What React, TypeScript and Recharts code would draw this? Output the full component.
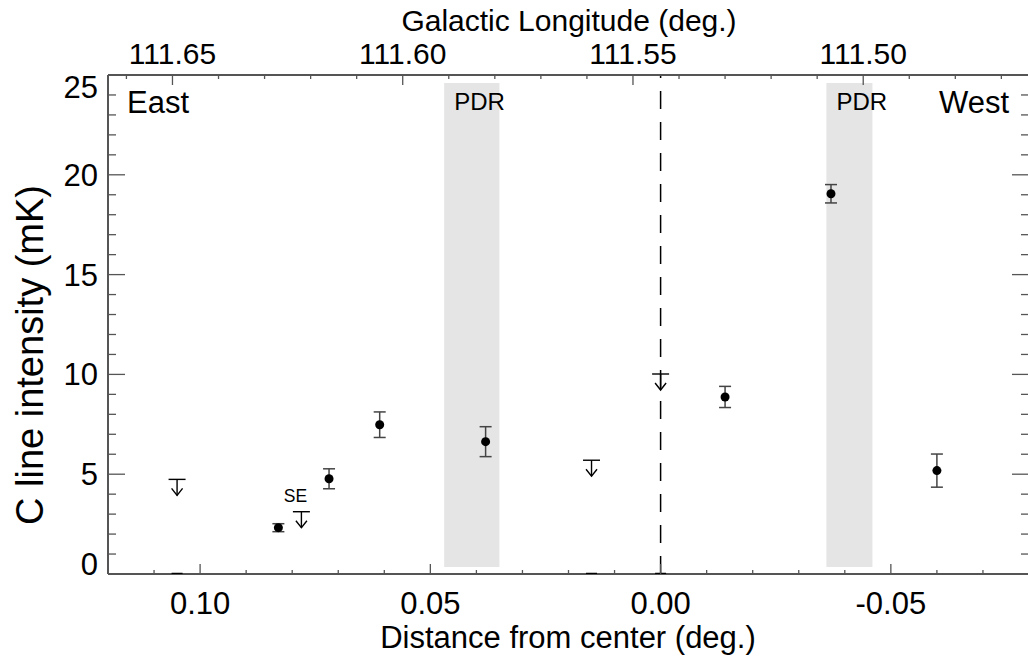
import {
  ComposedChart,
  ErrorBar,
  ReferenceArea,
  ReferenceLine,
  Scatter,
  XAxis,
  YAxis,
} from "recharts";

// detections (distance from center in deg., intensity in mK, 1-sigma error)
const detOffsets = [0.083, 0.072, 0.061, 0.038, -0.014, -0.037, -0.06];
const detIntensity = [2.32, 4.77, 7.48, 6.63, 8.87, 19.05, 5.18];
const detError = [0.2, 0.5, 0.64, 0.75, 0.53, 0.46, 0.83];

// upper limits
const limOffsets = [0.105, 0.078, 0.015, 0.0];
const limIntensity = [4.74, 3.12, 5.7, 10.02];
const limNotes = ["", "SE", "", ""];
const zeroMarkOffsets = [0.105, 0.015, 0.0];

// PDR regions
const pdrFrom = [0.047, -0.036];
const pdrTo = [0.035, -0.046];
const pdrLow = 0.35;
const pdrHigh = 24.6;

const lonCenter = 111.544;
const distDomain = [-0.08, 0.12];
const distTicks = [-8, -7, -6, -5, -4, -3, -2, -1, 0, 1, 2, 3, 4, 5, 6, 7, 8, 9, 10, 11, 12].map((k) => k / 100);
const lonTicks = [
  11147, 11148, 11149, 11150, 11151, 11152, 11153, 11154, 11155, 11156, 11157, 11158, 11159, 11160,
  11161, 11162, 11163, 11164, 11165, 11166,
].map((k) => k / 100);
const intensityTicks = [0, 1, 2, 3, 4, 5, 6, 7, 8, 9, 10, 11, 12, 13, 14, 15, 16, 17, 18, 19, 20, 21, 22, 23, 24, 25];

const FONT = '"Liberation Sans", Arial, Helvetica, sans-serif';
const AXIS = "#555";

const detections = detOffsets.map((x, i) => ({ x, y: detIntensity[i], err: detError[i] }));
const limits = limOffsets.map((x, i) => ({ x, y: limIntensity[i], note: limNotes[i] }));
const zeroMarks = zeroMarkOffsets.map((x) => ({ x, y: 0 }));
// same detections in galactic longitude, only so the top axis has a series
const detLongitudes = detOffsets.map((x, i) => ({ x: lonCenter + x, y: detIntensity[i] }));

const BottomTick = ({ x, y, payload }: any) => {
  const k = Math.round(payload.value * 100);
  const major = k % 5 === 0;
  return (
    <g>
      <line x1={x} x2={x} y1={y} y2={y - (major ? 10 : 4)} stroke={AXIS} strokeWidth={1.3} />
      {major && (
        <text x={x} y={y + 40} textAnchor="middle" fontSize={31} fontFamily={FONT} fill="#000">
          {(k / 100).toFixed(2)}
        </text>
      )}
    </g>
  );
};

const TopTick = ({ x, y, payload }: any) => {
  const k = Math.round(payload.value * 100);
  const major = k % 5 === 0;
  return (
    <g>
      <line x1={x} x2={x} y1={y} y2={y + (major ? 10 : 4)} stroke={AXIS} strokeWidth={1.3} />
      {major && (
        <text x={x} y={y - 11} textAnchor="middle" fontSize={30} fontFamily={FONT} fill="#000">
          {(k / 100).toFixed(2)}
        </text>
      )}
    </g>
  );
};

const LeftTick = ({ x, y, payload }: any) => {
  const v = payload.value;
  const major = v % 5 === 0;
  // IDL nudges the end labels inside the frame
  const shift = v === 0 ? -10 : v === 25 ? 12 : 0;
  return (
    <g>
      <line x1={x} x2={x + (major ? 17 : 8)} y1={y} y2={y} stroke={AXIS} strokeWidth={1.3} />
      {major && (
        <text x={x - 10} y={y + 11 + shift} textAnchor="end" fontSize={31} fontFamily={FONT} fill="#000">
          {v}
        </text>
      )}
    </g>
  );
};

const RightTick = ({ x, y, payload }: any) => {
  const major = payload.value % 5 === 0;
  return <line x1={x} x2={x - (major ? 17 : 8)} y1={y} y2={y} stroke={AXIS} strokeWidth={1.3} />;
};

const Dot = ({ cx, cy }: any) => <circle cx={cx} cy={cy} r={4.5} fill="#000" />;

const Hidden = () => <g />;

const LimitMark = ({ cx, cy, payload }: any) => (
  <g stroke="#000" strokeWidth={1.4} fill="none">
    <line x1={cx - 8.5} x2={cx + 8.5} y1={cy} y2={cy} />
    <line x1={cx} x2={cx} y1={cy} y2={cy + 16} />
    <polyline points={`${cx - 5.5},${cy + 9} ${cx},${cy + 16} ${cx + 5.5},${cy + 9}`} />
    {payload.note && (
      <text x={cx - 6} y={cy - 10} textAnchor="middle" fontSize={17.5} fontFamily={FONT} fill="#000" stroke="none">
        {payload.note}
      </text>
    )}
  </g>
);

const ZeroMark = ({ cx, cy }: any) => (
  <line x1={cx - 5.5} x2={cx + 5.5} y1={cy} y2={cy} stroke="#000" strokeWidth={2.5} />
);

export default function App() {
  return (
    <div style={{ position: "absolute", left: 0, top: 0, width: 1028, height: 660, overflow: "hidden", background: "#fff" }}>
      <ComposedChart width={1030} height={660} margin={{ top: 0, right: 0, bottom: 0, left: 0 }}>
        <XAxis
          xAxisId="bottom"
          type="number"
          dataKey="x"
          domain={distDomain}
          reversed
          allowDataOverflow
          ticks={distTicks}
          interval={0}
          height={86}
          tickSize={0}
          tickMargin={0}
          tickLine={false}
          tick={<BottomTick />}
          axisLine={{ stroke: AXIS, strokeWidth: 2 }}
        />
        <XAxis
          xAxisId="top"
          orientation="top"
          type="number"
          dataKey="x"
          domain={[lonCenter + distDomain[0], lonCenter + distDomain[1]]}
          reversed
          allowDataOverflow
          ticks={lonTicks}
          interval={0}
          height={75}
          tickSize={0}
          tickMargin={0}
          tickLine={false}
          tick={<TopTick />}
          axisLine={{ stroke: AXIS, strokeWidth: 2 }}
        />
        <YAxis
          yAxisId="left"
          type="number"
          dataKey="y"
          domain={[0, 25]}
          allowDataOverflow
          ticks={intensityTicks}
          interval={0}
          width={108}
          tickSize={0}
          tickMargin={0}
          tickLine={false}
          tick={<LeftTick />}
          axisLine={{ stroke: AXIS, strokeWidth: 2 }}
        />
        <YAxis
          yAxisId="right"
          orientation="right"
          type="number"
          domain={[0, 25]}
          allowDataOverflow
          ticks={intensityTicks}
          interval={0}
          width={1}
          tickSize={0}
          tickMargin={0}
          tickLine={false}
          tick={<RightTick />}
          axisLine={{ stroke: AXIS, strokeWidth: 2 }}
        />

        {pdrFrom.map((x1, i) => (
          <ReferenceArea
            key={i}
            xAxisId="bottom"
            yAxisId="left"
            x1={x1}
            x2={pdrTo[i]}
            y1={pdrLow}
            y2={pdrHigh}
            fill="#e5e5e5"
            fillOpacity={1}
            stroke="none"
            label={{ value: "PDR", position: "insideTopLeft", offset: 10, fontSize: 24, fill: "#000", fontFamily: FONT }}
          />
        ))}

        <ReferenceLine xAxisId="bottom" yAxisId="left" x={0} stroke="#000" strokeWidth={1.5} strokeDasharray="18 13" />

        <Scatter xAxisId="top" yAxisId="left" data={detLongitudes} shape={<Hidden />} isAnimationActive={false} />
        <Scatter xAxisId="bottom" yAxisId="left" data={zeroMarks} shape={<ZeroMark />} isAnimationActive={false} />
        <Scatter xAxisId="bottom" yAxisId="left" data={limits} shape={<LimitMark />} isAnimationActive={false} />
        <Scatter xAxisId="bottom" yAxisId="left" data={detections} shape={<Dot />} isAnimationActive={false}>
          <ErrorBar dataKey="err" direction="y" width={6} stroke="#444" strokeWidth={1.5} />
        </Scatter>

        <text x={127} y={113} fontSize={31} fontFamily={FONT} fill="#000">East</text>
        <text x={1009} y={113} fontSize={31} fontFamily={FONT} fill="#000" textAnchor="end">West</text>
        <text x={569} y={31} fontSize={30} fontFamily={FONT} fill="#000" textAnchor="middle">Galactic Longitude (deg.)</text>
        <text x={568} y={648} fontSize={31} fontFamily={FONT} fill="#000" textAnchor="middle">Distance from center (deg.)</text>
        <text x={43} y={355} fontSize={38} fontFamily={FONT} fill="#000" textAnchor="middle" transform="rotate(-90 43 355)">
          C line intensity (mK)
        </text>
      </ComposedChart>
    </div>
  );
}
